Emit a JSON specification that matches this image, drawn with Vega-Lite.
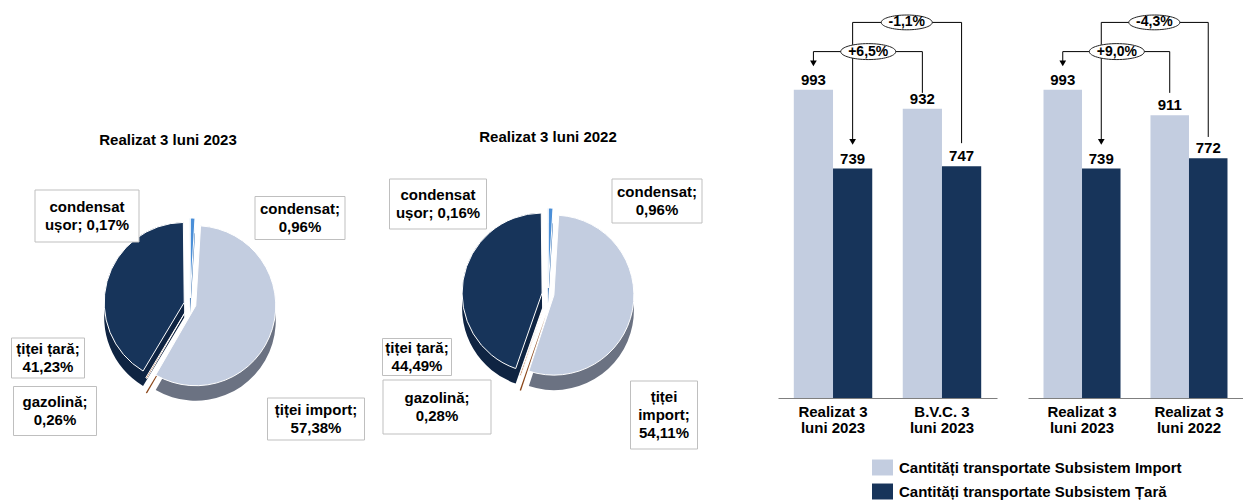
{
  "$schema": "https://vega.github.io/schema/vega-lite/v6.json",
  "padding": {"top": 10, "left": 0, "right": 0, "bottom": 0},
  "background": "white",
  "config": {
    "view": {"stroke": null},
    "font": "Liberation Sans",
    "text": {"font": "Liberation Sans"},
    "legend": {"orient": "none", "legendX": 872, "legendY": 447, "title": null, "symbolType": "M-1,-0.76H1V0.76H-1Z", "symbolSize": 441, "symbolStrokeWidth": 0, "symbolOpacity": 1, "labelFont": "Liberation Sans", "labelFontSize": 15, "labelFontWeight": "bold", "labelColor": "black", "labelOffset": 6, "rowPadding": 5, "padding": 0, "labelLimit": 400}
  },
  "spacing": 62,
  "hconcat": [
    {
      "spacing": 0,
      "hconcat": [
        {
          "spacing": 0,
          "vconcat": [
            {"width": 380, "height": 123, "data": {"values": [{}]}, "mark": {"type": "text", "text": ""}, "encoding": {}},
            {
              "width": 380, "height": 296,
              "title": {"text": "Realizat 3 luni 2023", "fontSize": 15, "fontWeight": "bold", "font": "Liberation Sans", "color": "black", "anchor": "middle", "offset": 8, "dx": -22},
              "data": {"values": [
                {"id": "c", "k": "condensat", "v": 0.96, "o": 1, "lbl": "condensat;\n0,96%"},
                {"id": "ti", "k": "țiței import", "v": 57.38, "o": 2, "lbl": "țiței import;\n57,38%"},
                {"id": "g", "k": "gazolină", "v": 0.26, "o": 3, "lbl": "gazolină;\n0,26%"},
                {"id": "tt", "k": "țiței țară", "v": 41.23, "o": 4, "lbl": "țiței țară;\n41,23%"},
                {"id": "cu", "k": "condensat ușor", "v": 0.17, "o": 5, "lbl": "condensat\nușor; 0,17%"}
              ]},
              "layer": [
                {
                  "mark": {"type": "arc", "radius": 80,
                    "xOffset": {"expr": "6*sin(PI*(datum.v_start+datum.v_end)/100)"},
                    "yOffset": {"expr": "15-6*cos(PI*(datum.v_start+datum.v_end)/100)"}},
                  "encoding": {
                    "theta": {"field": "v", "type": "quantitative", "stack": true},
                    "order": {"field": "o", "type": "quantitative"},
                    "fill": {"field": "k", "type": "nominal", "legend": null,
                      "scale": {"domain": ["țiței import", "țiței țară", "gazolină", "condensat", "condensat ușor"], "range": ["#6B7282", "#0F2442", "#8A4518", "#2E6AAE", "#6E9CC8"]}}
                  }
                },
                {
                  "mark": {"type": "arc", "radius": 80, "stroke": "white", "strokeWidth": 1,
                    "xOffset": {"expr": "6*sin(PI*(datum.v_start+datum.v_end)/100)"},
                    "yOffset": {"expr": "-6*cos(PI*(datum.v_start+datum.v_end)/100)"}},
                  "encoding": {
                    "theta": {"field": "v", "type": "quantitative", "stack": true},
                    "order": {"field": "o", "type": "quantitative"},
                    "color": {"field": "k", "type": "nominal",
                      "scale": {"domain": ["Cantități transportate Subsistem Import", "Cantități transportate Subsistem Țară", "țiței import", "țiței țară", "gazolină", "condensat", "condensat ușor"], "range": ["#C3CDE0", "#17345A", "#C3CDE0", "#17345A", "#B0591F", "#4A8FD8", "#9DC3E6"]},
                      "legend": {"values": ["Cantități transportate Subsistem Import", "Cantități transportate Subsistem Țară"]}}
                  }
                },
                {
                  "mark": {"type": "point", "filled": true, "fill": "white", "stroke": "#BFBFBF", "strokeWidth": 1, "opacity": 1,
                    "xOffset": {"expr": "datum.id=='cu'?-103:datum.id=='c'?110:datum.id=='tt'?-142:datum.id=='g'?-135:126"},
                    "yOffset": {"expr": "datum.id=='cu'?-88:datum.id=='c'?-86:datum.id=='tt'?54:datum.id=='g'?107:115"},
                    "size": {"expr": "pow(datum.id=='cu'?104:datum.id=='c'?90:datum.id=='tt'?73:datum.id=='g'?83:97, 2)"},
                    "shape": {"expr": "'M-1,' + (-(datum.id=='cu'?52:datum.id=='c'?43:datum.id=='tt'?40:datum.id=='g'?49:42)/(datum.id=='cu'?104:datum.id=='c'?90:datum.id=='tt'?73:datum.id=='g'?83:97)) + 'H1V' + ((datum.id=='cu'?52:datum.id=='c'?43:datum.id=='tt'?40:datum.id=='g'?49:42)/(datum.id=='cu'?104:datum.id=='c'?90:datum.id=='tt'?73:datum.id=='g'?83:97)) + 'H-1Z'"}
                  },
                  "encoding": {}
                },
                {
                  "mark": {"type": "text", "lineBreak": "\n", "fontSize": 15, "fontWeight": "bold", "color": "black", "baseline": "middle", "align": "center", "lineHeight": 18,
                    "dx": {"expr": "datum.id=='cu'?-103:datum.id=='c'?110:datum.id=='tt'?-142:datum.id=='g'?-135:126"},
                    "dy": {"expr": "datum.id=='cu'?-97:datum.id=='c'?-95:datum.id=='tt'?45:datum.id=='g'?98:106"}
                  },
                  "encoding": {"text": {"field": "lbl", "type": "nominal"}}
                }
              ]
            }
          ]
        },
        {
          "spacing": 0,
          "vconcat": [
            {"width": 336, "height": 120, "data": {"values": [{}]}, "mark": {"type": "text", "text": ""}, "encoding": {}},
            {
              "width": 336, "height": 282,
              "title": {"text": "Realizat 3 luni 2022", "fontSize": 15, "fontWeight": "bold", "font": "Liberation Sans", "color": "black", "anchor": "middle", "offset": 8},
              "data": {"values": [
                {"id": "c", "k": "condensat", "v": 0.96, "o": 1, "lbl": "condensat;\n0,96%"},
                {"id": "ti", "k": "țiței import", "v": 54.11, "o": 2, "lbl": "țiței\nimport;\n54,11%"},
                {"id": "g", "k": "gazolină", "v": 0.28, "o": 3, "lbl": "gazolină;\n0,28%"},
                {"id": "tt", "k": "țiței țară", "v": 44.49, "o": 4, "lbl": "țiței țară;\n44,49%"},
                {"id": "cu", "k": "condensat ușor", "v": 0.16, "o": 5, "lbl": "condensat\nușor; 0,16%"}
              ]},
              "layer": [
                {
                  "mark": {"type": "arc", "radius": 80,
                    "xOffset": {"expr": "6*sin(PI*(datum.v_start+datum.v_end)/100)"},
                    "yOffset": {"expr": "15-6*cos(PI*(datum.v_start+datum.v_end)/100)"}},
                  "encoding": {
                    "theta": {"field": "v", "type": "quantitative", "stack": true},
                    "order": {"field": "o", "type": "quantitative"},
                    "fill": {"field": "k", "type": "nominal", "legend": null,
                      "scale": {"domain": ["țiței import", "țiței țară", "gazolină", "condensat", "condensat ușor"], "range": ["#6B7282", "#0F2442", "#8A4518", "#2E6AAE", "#6E9CC8"]}}
                  }
                },
                {
                  "mark": {"type": "arc", "radius": 80, "stroke": "white", "strokeWidth": 1,
                    "xOffset": {"expr": "6*sin(PI*(datum.v_start+datum.v_end)/100)"},
                    "yOffset": {"expr": "-6*cos(PI*(datum.v_start+datum.v_end)/100)"}},
                  "encoding": {
                    "theta": {"field": "v", "type": "quantitative", "stack": true},
                    "order": {"field": "o", "type": "quantitative"},
                    "color": {"field": "k", "type": "nominal",
                      "scale": {"domain": ["Cantități transportate Subsistem Import", "Cantități transportate Subsistem Țară", "țiței import", "țiței țară", "gazolină", "condensat", "condensat ușor"], "range": ["#C3CDE0", "#17345A", "#C3CDE0", "#17345A", "#B0591F", "#4A8FD8", "#9DC3E6"]},
                      "legend": {"values": ["Cantități transportate Subsistem Import", "Cantități transportate Subsistem Țară"]}}
                  }
                },
                {
                  "mark": {"type": "point", "filled": true, "fill": "white", "stroke": "#BFBFBF", "strokeWidth": 1, "opacity": 1,
                    "xOffset": {"expr": "datum.id=='cu'?-110:datum.id=='c'?109:datum.id=='tt'?-131:datum.id=='g'?-111:116"},
                    "yOffset": {"expr": "datum.id=='cu'?-90:datum.id=='c'?-93:datum.id=='tt'?63:datum.id=='g'?113:121"},
                    "size": {"expr": "pow(datum.id=='cu'?97:datum.id=='c'?90:datum.id=='tt'?69:datum.id=='g'?108:67, 2)"},
                    "shape": {"expr": "'M-1,' + (-(datum.id=='cu'?50:datum.id=='c'?44:datum.id=='tt'?37:datum.id=='g'?54:68)/(datum.id=='cu'?97:datum.id=='c'?90:datum.id=='tt'?69:datum.id=='g'?108:67)) + 'H1V' + ((datum.id=='cu'?50:datum.id=='c'?44:datum.id=='tt'?37:datum.id=='g'?54:68)/(datum.id=='cu'?97:datum.id=='c'?90:datum.id=='tt'?69:datum.id=='g'?108:67)) + 'H-1Z'"}
                  },
                  "encoding": {}
                },
                {
                  "mark": {"type": "text", "lineBreak": "\n", "fontSize": 15, "fontWeight": "bold", "color": "black", "baseline": "middle", "align": "center", "lineHeight": 18,
                    "dx": {"expr": "datum.id=='cu'?-110:datum.id=='c'?109:datum.id=='tt'?-131:datum.id=='g'?-111:116"},
                    "dy": {"expr": "datum.id=='cu'?-99:datum.id=='c'?-102:datum.id=='tt'?54:datum.id=='g'?104:103"}
                  },
                  "encoding": {"text": {"field": "lbl", "type": "nominal"}}
                }
              ]
            }
          ]
        }
      ]
    },
    {
      "spacing": 31,
      "resolve": {"scale": {"x": "independent", "y": "independent", "xOffset": "independent"}},
      "hconcat": [
        {
          "width": 219, "height": 388,
          "data": {"values": [
            {"cat": "Realizat 3 luni 2023", "s": "Cantități transportate Subsistem Import", "v": 993},
            {"cat": "Realizat 3 luni 2023", "s": "Cantități transportate Subsistem Țară", "v": 739},
            {"cat": "B.V.C. 3 luni 2023", "s": "Cantități transportate Subsistem Import", "v": 932},
            {"cat": "B.V.C. 3 luni 2023", "s": "Cantități transportate Subsistem Țară", "v": 747}
          ]},
          "encoding": {
            "x": {"field": "cat", "type": "nominal", "sort": null, "title": null,
              "scale": {"paddingInner": 0.28, "paddingOuter": 0.145},
              "axis": {"labelAngle": 0, "ticks": false, "domainColor": "#7F7F7F", "labelFontSize": 15, "labelFontWeight": "bold", "labelColor": "black", "labelFont": "Liberation Sans", "labelPadding": 6, "labelLineHeight": 16, "labelLimit": 200,
                "labelExpr": "[slice(datum.value, 0, indexof(datum.value, ' luni')), slice(datum.value, indexof(datum.value, ' luni') + 1)]"}},
            "y": {"type": "quantitative", "scale": {"domain": [0, 1250]}, "axis": null}
          },
          "layer": [
            {
              "mark": {"type": "bar"},
              "encoding": {
                "xOffset": {"field": "s", "type": "nominal", "scale": {"domain": ["Cantități transportate Subsistem Import", "Cantități transportate Subsistem Țară"]}},
                "y": {"field": "v", "type": "quantitative"},
                "color": {"field": "s", "type": "nominal",
                  "scale": {"domain": ["Cantități transportate Subsistem Import", "Cantități transportate Subsistem Țară", "țiței import", "țiței țară", "gazolină", "condensat", "condensat ușor"], "range": ["#C3CDE0", "#17345A", "#C3CDE0", "#17345A", "#B0591F", "#4A8FD8", "#9DC3E6"]},
                  "legend": {"values": ["Cantități transportate Subsistem Import", "Cantități transportate Subsistem Țară"]}}
              }
            },
            {
              "mark": {"type": "text", "baseline": "alphabetic", "dy": -5, "fontSize": 15, "fontWeight": "bold", "color": "black"},
              "encoding": {
                "xOffset": {"field": "s", "type": "nominal"},
                "y": {"field": "v", "type": "quantitative"},
                "text": {"field": "v", "type": "quantitative"}
              }
            },
            {
              "data": {"values": [
                {"b": 1, "o": 1, "cat": "Realizat 3 luni 2023", "s": "Cantități transportate Subsistem Import", "y": 1078},
                {"b": 1, "o": 2, "cat": "Realizat 3 luni 2023", "s": "Cantități transportate Subsistem Import", "y": 1116},
                {"b": 1, "o": 3, "cat": "B.V.C. 3 luni 2023", "s": "Cantități transportate Subsistem Import", "y": 1116},
                {"b": 1, "o": 4, "cat": "B.V.C. 3 luni 2023", "s": "Cantități transportate Subsistem Import", "y": 983},
                {"b": 2, "o": 1, "cat": "Realizat 3 luni 2023", "s": "Cantități transportate Subsistem Țară", "y": 825},
                {"b": 2, "o": 2, "cat": "Realizat 3 luni 2023", "s": "Cantități transportate Subsistem Țară", "y": 1210},
                {"b": 2, "o": 3, "cat": "B.V.C. 3 luni 2023", "s": "Cantități transportate Subsistem Țară", "y": 1210},
                {"b": 2, "o": 4, "cat": "B.V.C. 3 luni 2023", "s": "Cantități transportate Subsistem Țară", "y": 821}
              ]},
              "mark": {"type": "line", "color": "black", "strokeWidth": 1, "interpolate": "linear"},
              "encoding": {
                "xOffset": {"field": "s", "type": "nominal"},
                "y": {"field": "y", "type": "quantitative"},
                "detail": {"field": "b", "type": "nominal"},
                "order": {"field": "o", "type": "quantitative"}
              }
            },
            {
              "data": {"values": [
                {"cat": "Realizat 3 luni 2023", "s": "Cantități transportate Subsistem Import", "y": 1078},
                {"cat": "Realizat 3 luni 2023", "s": "Cantități transportate Subsistem Țară", "y": 825}
              ]},
              "mark": {"type": "point", "shape": "triangle-down", "filled": true, "color": "black", "opacity": 1, "size": 45},
              "encoding": {
                "xOffset": {"field": "s", "type": "nominal"},
                "y": {"field": "y", "type": "quantitative"}
              }
            },
            {
              "data": {"values": [{"cat": "Realizat 3 luni 2023", "y": 1116, "t": "+6,5%"}]},
              "layer": [
                {"mark": {"type": "point", "shape": "M-1,0A1,0.29,0,1,1,1,0A1,0.29,0,1,1,-1,0Z", "size": 3025, "filled": true, "fill": "white", "stroke": "#222222", "strokeWidth": 1, "opacity": 1},
                 "encoding": {"x": {"field": "cat", "type": "nominal", "bandPosition": 0.949}, "y": {"field": "y", "type": "quantitative"}}},
                {"mark": {"type": "text", "fontSize": 14, "fontWeight": "bold", "color": "black", "baseline": "middle"},
                 "encoding": {"x": {"field": "cat", "type": "nominal", "bandPosition": 0.949}, "y": {"field": "y", "type": "quantitative"}, "text": {"field": "t"}}}
              ]
            },
            {
              "data": {"values": [{"cat": "B.V.C. 3 luni 2023", "y": 1210, "t": "-1,1%"}]},
              "layer": [
                {"mark": {"type": "point", "shape": "M-1,0A1,0.29,0,1,1,1,0A1,0.29,0,1,1,-1,0Z", "size": 2601, "filled": true, "fill": "white", "stroke": "#222222", "strokeWidth": 1, "opacity": 1},
                 "encoding": {"x": {"field": "cat", "type": "nominal", "bandPosition": 0.051}, "y": {"field": "y", "type": "quantitative"}}},
                {"mark": {"type": "text", "fontSize": 14, "fontWeight": "bold", "color": "black", "baseline": "middle"},
                 "encoding": {"x": {"field": "cat", "type": "nominal", "bandPosition": 0.051}, "y": {"field": "y", "type": "quantitative"}, "text": {"field": "t"}}}
              ]
            }
          ]
        },
        {
          "width": 215, "height": 388,
          "data": {"values": [
            {"cat": "Realizat 3 luni 2023", "s": "Cantități transportate Subsistem Import", "v": 993},
            {"cat": "Realizat 3 luni 2023", "s": "Cantități transportate Subsistem Țară", "v": 739},
            {"cat": "Realizat 3 luni 2022", "s": "Cantități transportate Subsistem Import", "v": 911},
            {"cat": "Realizat 3 luni 2022", "s": "Cantități transportate Subsistem Țară", "v": 772}
          ]},
          "encoding": {
            "x": {"field": "cat", "type": "nominal", "sort": null, "title": null,
              "scale": {"paddingInner": 0.28, "paddingOuter": 0.145},
              "axis": {"labelAngle": 0, "ticks": false, "domainColor": "#7F7F7F", "labelFontSize": 15, "labelFontWeight": "bold", "labelColor": "black", "labelFont": "Liberation Sans", "labelPadding": 6, "labelLineHeight": 16, "labelLimit": 200,
                "labelExpr": "[slice(datum.value, 0, indexof(datum.value, ' luni')), slice(datum.value, indexof(datum.value, ' luni') + 1)]"}},
            "y": {"type": "quantitative", "scale": {"domain": [0, 1250]}, "axis": null}
          },
          "layer": [
            {
              "mark": {"type": "bar"},
              "encoding": {
                "xOffset": {"field": "s", "type": "nominal", "scale": {"domain": ["Cantități transportate Subsistem Import", "Cantități transportate Subsistem Țară"]}},
                "y": {"field": "v", "type": "quantitative"},
                "color": {"field": "s", "type": "nominal",
                  "scale": {"domain": ["Cantități transportate Subsistem Import", "Cantități transportate Subsistem Țară", "țiței import", "țiței țară", "gazolină", "condensat", "condensat ușor"], "range": ["#C3CDE0", "#17345A", "#C3CDE0", "#17345A", "#B0591F", "#4A8FD8", "#9DC3E6"]},
                  "legend": {"values": ["Cantități transportate Subsistem Import", "Cantități transportate Subsistem Țară"]}}
              }
            },
            {
              "mark": {"type": "text", "baseline": "alphabetic", "dy": -5, "fontSize": 15, "fontWeight": "bold", "color": "black"},
              "encoding": {
                "xOffset": {"field": "s", "type": "nominal"},
                "y": {"field": "v", "type": "quantitative"},
                "text": {"field": "v", "type": "quantitative"}
              }
            },
            {
              "data": {"values": [
                {"b": 1, "o": 1, "cat": "Realizat 3 luni 2023", "s": "Cantități transportate Subsistem Import", "y": 1078},
                {"b": 1, "o": 2, "cat": "Realizat 3 luni 2023", "s": "Cantități transportate Subsistem Import", "y": 1116},
                {"b": 1, "o": 3, "cat": "Realizat 3 luni 2022", "s": "Cantități transportate Subsistem Import", "y": 1116},
                {"b": 1, "o": 4, "cat": "Realizat 3 luni 2022", "s": "Cantități transportate Subsistem Import", "y": 983},
                {"b": 2, "o": 1, "cat": "Realizat 3 luni 2023", "s": "Cantități transportate Subsistem Țară", "y": 825},
                {"b": 2, "o": 2, "cat": "Realizat 3 luni 2023", "s": "Cantități transportate Subsistem Țară", "y": 1210},
                {"b": 2, "o": 3, "cat": "Realizat 3 luni 2022", "s": "Cantități transportate Subsistem Țară", "y": 1210},
                {"b": 2, "o": 4, "cat": "Realizat 3 luni 2022", "s": "Cantități transportate Subsistem Țară", "y": 841}
              ]},
              "mark": {"type": "line", "color": "black", "strokeWidth": 1, "interpolate": "linear"},
              "encoding": {
                "xOffset": {"field": "s", "type": "nominal"},
                "y": {"field": "y", "type": "quantitative"},
                "detail": {"field": "b", "type": "nominal"},
                "order": {"field": "o", "type": "quantitative"}
              }
            },
            {
              "data": {"values": [
                {"cat": "Realizat 3 luni 2023", "s": "Cantități transportate Subsistem Import", "y": 1078},
                {"cat": "Realizat 3 luni 2023", "s": "Cantități transportate Subsistem Țară", "y": 825}
              ]},
              "mark": {"type": "point", "shape": "triangle-down", "filled": true, "color": "black", "opacity": 1, "size": 45},
              "encoding": {
                "xOffset": {"field": "s", "type": "nominal"},
                "y": {"field": "y", "type": "quantitative"}
              }
            },
            {
              "data": {"values": [{"cat": "Realizat 3 luni 2023", "y": 1116, "t": "+9,0%"}]},
              "layer": [
                {"mark": {"type": "point", "shape": "M-1,0A1,0.29,0,1,1,1,0A1,0.29,0,1,1,-1,0Z", "size": 3025, "filled": true, "fill": "white", "stroke": "#222222", "strokeWidth": 1, "opacity": 1},
                 "encoding": {"x": {"field": "cat", "type": "nominal", "bandPosition": 0.952}, "y": {"field": "y", "type": "quantitative"}}},
                {"mark": {"type": "text", "fontSize": 14, "fontWeight": "bold", "color": "black", "baseline": "middle"},
                 "encoding": {"x": {"field": "cat", "type": "nominal", "bandPosition": 0.952}, "y": {"field": "y", "type": "quantitative"}, "text": {"field": "t"}}}
              ]
            },
            {
              "data": {"values": [{"cat": "Realizat 3 luni 2022", "y": 1210, "t": "-4,3%"}]},
              "layer": [
                {"mark": {"type": "point", "shape": "M-1,0A1,0.29,0,1,1,1,0A1,0.29,0,1,1,-1,0Z", "size": 2601, "filled": true, "fill": "white", "stroke": "#222222", "strokeWidth": 1, "opacity": 1},
                 "encoding": {"x": {"field": "cat", "type": "nominal", "bandPosition": 0.05}, "y": {"field": "y", "type": "quantitative"}}},
                {"mark": {"type": "text", "fontSize": 14, "fontWeight": "bold", "color": "black", "baseline": "middle"},
                 "encoding": {"x": {"field": "cat", "type": "nominal", "bandPosition": 0.05}, "y": {"field": "y", "type": "quantitative"}, "text": {"field": "t"}}}
              ]
            }
          ]
        }
      ]
    }
  ]
}
